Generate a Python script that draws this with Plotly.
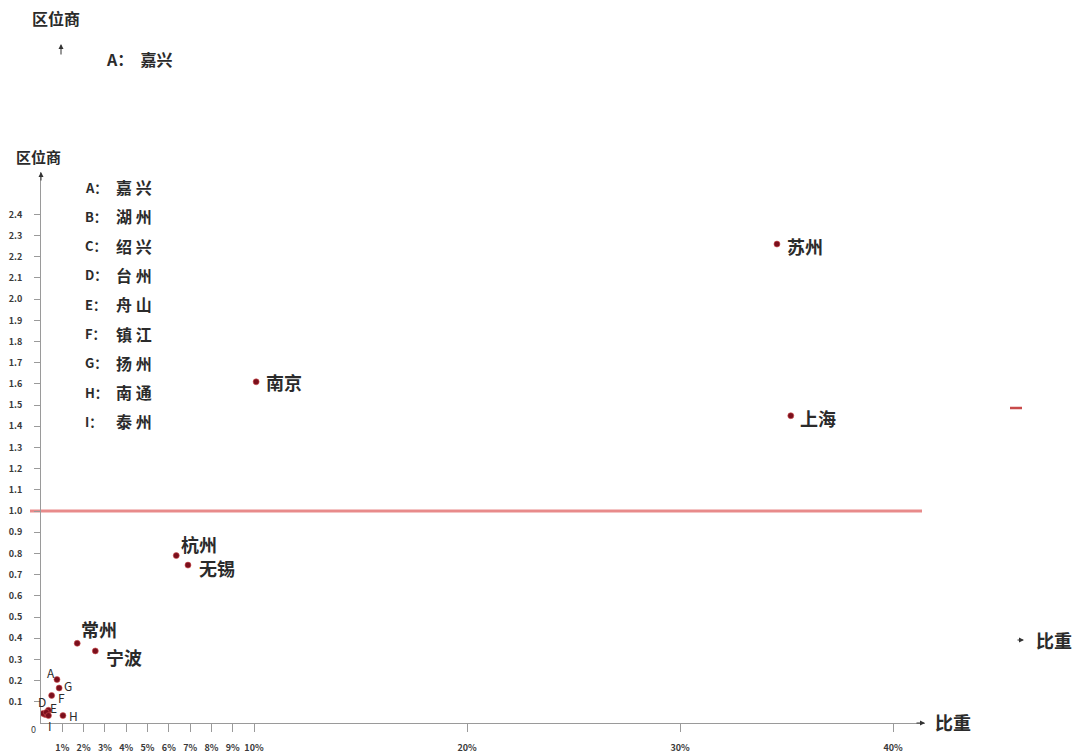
import plotly.graph_objects as go

# ---------------- data ----------------
cities = ["苏州", "上海", "南京", "杭州", "无锡", "常州", "宁波",
          "嘉兴", "湖州", "绍兴", "台州", "舟山", "镇江", "扬州", "南通", "泰州"]
codes = ["苏州", "上海", "南京", "杭州", "无锡", "常州", "宁波",
         "A", "B", "C", "D", "E", "F", "G", "H", "I"]
share_pct = [34.55, 35.2, 10.1, 6.35, 6.9, 1.7, 2.55,
             0.75, 0.35, 0.2, 0.1, 0.25, 0.5, 0.85, 1.03, 0.35]
lq = [2.26, 1.45, 1.61, 0.79, 0.745, 0.376, 0.34,
      0.205, 0.06, 0.04, 0.045, 0.05, 0.13, 0.165, 0.035, 0.035]
legend_codes = ["A", "B", "C", "D", "E", "F", "G", "H", "I"]
legend_names = ["嘉 兴", "湖 州", "绍 兴", "台 州", "舟 山", "镇 江", "扬 州", "南 通", "泰 州"]
x_tickvals = [1, 2, 3, 4, 5, 6, 7, 8, 9, 10, 20, 30, 40]
x_ticktext = ["1%", "2%", "3%", "4%", "5%", "6%", "7%", "8%", "9%", "10%", "20%", "30%", "40%"]
y_tickvals = [0.1, 0.2, 0.3, 0.4, 0.5, 0.6, 0.7, 0.8, 0.9, 1.0, 1.1, 1.2, 1.3,
              1.4, 1.5, 1.6, 1.7, 1.8, 1.9, 2.0, 2.1, 2.2, 2.3, 2.4]
y_ticktext = [f"{v:.1f}" for v in y_tickvals]
threshold = 1.0

# ---------------- layout helpers ----------------
W, H = 1087, 754
L, R, T, B = 41, 925, 172, 723
XMAX, YMAX = 41.5, 2.6


def pxx(px):
    return (px - L) / (R - L)


def pxy(py):
    return (B - py) / (B - T)


FONT = "Noto Sans CJK SC"
TXT = "#2b2b2b"
TICK = "#3a3a3a"

# label offsets (style): xanchor, xshift, yshift, size
label_style = {
    "苏州": ("left", 8, -2, 18), "上海": ("left", 7, -2, 18), "南京": ("left", 8, 0, 18),
    "杭州": ("left", 3, 12, 18), "无锡": ("left", 9, -3, 18), "常州": ("left", 2, 14, 18),
    "宁波": ("left", 9, -6, 18),
    "A": ("center", -6, 7, 12), "G": ("center", 9, 3, 12), "F": ("center", 10, -2, 12),
    "D": ("center", -1, 12, 12), "E": ("center", 7, 5, 12), "H": ("center", 11, 0, 12),
    "I": ("center", 2, -10, 12),
}

fig = go.Figure()
fig.add_trace(go.Scatter(
    x=share_pct, y=lq, mode="markers",
    marker=dict(size=6, color="#7a0f1c", line=dict(width=1, color="rgba(210,80,80,0.6)")),
    text=cities, hoverinfo="text", showlegend=False,
))

ann = []
for c, x, y in zip(codes, share_pct, lq):
    if c not in label_style:
        continue
    xa, xs, ys, sz = label_style[c]
    ann.append(dict(x=x, y=y, xref="x", yref="y", text=c, showarrow=False,
                    xanchor=xa, yanchor="middle", xshift=xs, yshift=ys,
                    font=dict(family=FONT, size=sz, color=TXT,
                              weight="bold" if sz > 14 else "normal")))

# legend list (text box at top left)
for i, (c, n) in enumerate(zip(legend_codes, legend_names)):
    py = 187 + i * 29.3
    ann.append(dict(x=pxx(83), y=pxy(py), xref="paper", yref="paper", text=c + "：",
                    showarrow=False, xanchor="left", yanchor="middle",
                    font=dict(family=FONT, size=13, color=TXT, weight="bold")))
    ann.append(dict(x=pxx(114), y=pxy(py), xref="paper", yref="paper", text=n,
                    showarrow=False, xanchor="left", yanchor="middle",
                    font=dict(family=FONT, size=16, color=TXT, weight="bold")))

# axis titles
ann.append(dict(x=pxx(14), y=pxy(157), xref="paper", yref="paper", text="区位商",
                showarrow=False, xanchor="left", yanchor="middle",
                font=dict(family=FONT, size=15, color=TXT, weight="bold")))
ann.append(dict(x=pxx(933), y=pxy(722), xref="paper", yref="paper", text="比重",
                showarrow=False, xanchor="left", yanchor="middle",
                font=dict(family=FONT, size=18, color=TXT, weight="bold")))
ann.append(dict(x=pxx(33), y=pxy(729), xref="paper", yref="paper", text="0",
                showarrow=False, xanchor="center", yanchor="middle",
                font=dict(family=FONT, size=9, color=TICK)))

# arrowheads on axes
ann.append(dict(x=XMAX, y=0, xref="x", yref="y", ax=-10, ay=0, text="",
                showarrow=True, arrowhead=2, arrowsize=1, arrowwidth=1, arrowcolor="#333"))
ann.append(dict(x=0, y=YMAX, xref="x", yref="y", ax=0, ay=10, text="",
                showarrow=True, arrowhead=2, arrowsize=1, arrowwidth=1, arrowcolor="#333"))

# duplicate fragments seen in the picture
ann.append(dict(x=pxx(30), y=pxy(18), xref="paper", yref="paper", text="区位商",
                showarrow=False, xanchor="left", yanchor="middle",
                font=dict(family=FONT, size=16, color=TXT, weight="bold")))
ann.append(dict(x=pxx(61), y=pxy(44), xref="paper", yref="paper", ax=0, ay=12, text="",
                showarrow=True, arrowhead=2, arrowsize=1, arrowwidth=1, arrowcolor="#333"))
ann.append(dict(x=pxx(104), y=pxy(59), xref="paper", yref="paper", text="A：  嘉兴",
                showarrow=False, xanchor="left", yanchor="middle",
                font=dict(family=FONT, size=16, color=TXT, weight="bold")))
ann.append(dict(x=pxx(1024), y=pxy(640), xref="paper", yref="paper", ax=-8, ay=0, text="",
                showarrow=True, arrowhead=2, arrowsize=1, arrowwidth=1, arrowcolor="#333"))
ann.append(dict(x=pxx(1034), y=pxy(640), xref="paper", yref="paper", text="比重",
                showarrow=False, xanchor="left", yanchor="middle",
                font=dict(family=FONT, size=18, color=TXT, weight="bold")))

shapes = [
    dict(type="line", xref="paper", yref="y", x0=pxx(30), x1=pxx(922), y0=threshold, y1=threshold,
         line=dict(color="rgba(226,110,110,0.8)", width=3), layer="below"),
    dict(type="line", xref="paper", yref="paper", x0=pxx(1010), x1=pxx(1022), y0=pxy(408), y1=pxy(408),
         line=dict(color="#c84a4a", width=2.5)),
    dict(type="rect", xref="paper", yref="paper", x0=pxx(95), x1=pxx(180), y0=pxy(60), y1=pxy(80),
         line=dict(width=0), fillcolor="white", layer="above"),
]

fig.update_layout(
    width=W, height=H,
    margin=dict(l=L, r=W - R, t=T, b=H - B, pad=0, autoexpand=False),
    paper_bgcolor="white", plot_bgcolor="white",
    showlegend=False,
    annotations=ann, shapes=shapes,
    xaxis=dict(range=[0, XMAX], tickvals=x_tickvals, ticktext=x_ticktext, automargin=False,
               showgrid=False, zeroline=False, showline=True, linecolor="#9a9a9a", linewidth=1,
               ticks="outside", ticklen=8, tickcolor="#9a9a9a", ticklabelstandoff=8,
               tickfont=dict(family=FONT, size=9, color=TICK, weight="bold")),
    yaxis=dict(range=[0, YMAX], tickvals=y_tickvals, ticktext=y_ticktext, automargin=False,
               showgrid=False, zeroline=False, showline=True, linecolor="#9a9a9a", linewidth=1,
               ticks="outside", ticklen=6, tickcolor="#9a9a9a", ticklabelstandoff=10,
               tickfont=dict(family=FONT, size=9, color=TICK, weight="bold")),
)

page_css = (
    "var s='margin:0;padding:0;overflow:hidden;width:1087px;height:754px;';"
    "document.documentElement.style.cssText=s;document.body.style.cssText=s;"
    "var g=document.getElementById('{plot_id}');"
    "g.style.position='fixed';g.style.left='0px';g.style.top='0px';"
)

fig.write_html("out.html", config={"displayModeBar": False}, post_script=page_css)
